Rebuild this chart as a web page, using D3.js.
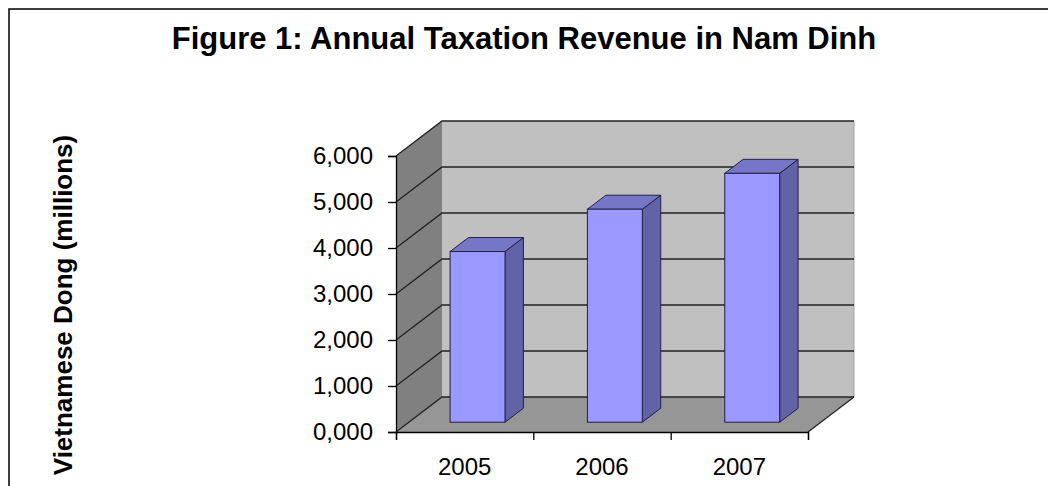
<!DOCTYPE html>
<html>
<head>
<meta charset="utf-8">
<script src="https://cdn.jsdelivr.net/npm/d3@7"></script>
<style>
  html, body { margin: 0; padding: 0; background: #fff; }
  svg { display: block; }
  text { font-family: "Liberation Sans", Arial, sans-serif; }
</style>
</head>
<body>
<svg id="chart" width="1048" height="486"></svg>
<script>
// ---- data ----
const categories = ["2005", "2006", "2007"];
const values = [3710, 4630, 5410];
const yTicks = [0, 1000, 2000, 3000, 4000, 5000, 6000];
const yTickLabels = ["0,000", "1,000", "2,000", "3,000", "4,000", "5,000", "6,000"];
const titleText = "Figure 1: Annual Taxation Revenue in Nam Dinh";
const yTitleText = "Vietnamese Dong (millions)";

// ---- layout ----
const svg = d3.select("#chart");
const x0 = 396, x1 = 808, yTop = 156, yBot = 432;
const depth = { dx: 46, dy: -35 };
const barFront = 0.28, barDepth = 0.40;

const x = d3.scaleBand().domain(categories).range([x0, x1]).paddingInner(0.6).paddingOuter(0.3);
const y = d3.scaleLinear().domain([0, 6000]).range([yBot, yTop]);

// outer frame
svg.append("path").attr("d", "M9,486 L9,9 L1048,9")
  .attr("fill", "none").attr("stroke", "#000").attr("stroke-width", 1.5);

// walls
const dx = depth.dx, dy = depth.dy;
const g = svg.append("g");
g.append("polygon")
  .attr("points", [[x0, y(6000)], [x0 + dx, y(6000) + dy], [x0 + dx, y(0) + dy], [x0, y(0)]].join(" "))
  .attr("fill", "#808080");
g.append("polygon")
  .attr("points", [[x0 + dx, y(6000) + dy], [x1 + dx, y(6000) + dy], [x1 + dx, y(0) + dy], [x0 + dx, y(0) + dy]].join(" "))
  .attr("fill", "#c0c0c0");
g.append("polygon")
  .attr("points", [[x0, y(0)], [x0 + dx, y(0) + dy], [x1 + dx, y(0) + dy], [x1, y(0)]].join(" "))
  .attr("fill", "#969696");
g.append("line").attr("x1", x1 + dx).attr("x2", x1 + dx)
  .attr("y1", y(6000) + dy).attr("y2", y(0) + dy)
  .attr("stroke", "#a0a0a0").attr("stroke-width", 1);

// gridlines
yTicks.forEach(v => {
  g.append("path")
    .attr("d", `M${x0},${y(v)} L${x0 + dx},${y(v) + dy} L${x1 + dx},${y(v) + dy}`)
    .attr("fill", "none").attr("stroke", "#222").attr("stroke-width", 1.3);
});
g.append("line").attr("x1", x1).attr("y1", y(0)).attr("x2", x1 + dx).attr("y2", y(0) + dy)
  .attr("stroke", "#222").attr("stroke-width", 1.3);

// axes
const yAxis = d3.axisLeft(y).tickValues(yTicks).tickSize(8).tickPadding(15)
  .tickFormat((d, i) => yTickLabels[i]);
const ya = svg.append("g").attr("transform", `translate(${x0},0)`).call(yAxis);
ya.select(".domain").attr("stroke", "#000").attr("stroke-width", 1.3);
ya.selectAll(".tick line").attr("stroke", "#000").attr("stroke-width", 1.3);
ya.selectAll("text").attr("font-size", 24).attr("fill", "#000")
  .attr("font-family", "'Liberation Sans', Arial, sans-serif");

const xTickScale = d3.scalePoint().domain(d3.range(categories.length + 1)).range([x0, x1]);
const xa = svg.append("g").attr("transform", `translate(0,${yBot})`)
  .call(d3.axisBottom(xTickScale).tickSize(8).tickFormat(""));
xa.select(".domain").attr("stroke", "#000").attr("stroke-width", 1.3);
xa.selectAll(".tick line").attr("stroke", "#000").attr("stroke-width", 1.3);

svg.append("g").selectAll("text").data(categories).join("text")
  .attr("x", d => x(d) + x.bandwidth() / 2)
  .attr("y", yBot + 43)
  .attr("text-anchor", "middle").attr("font-size", 24).attr("fill", "#000")
  .text(d => d);

// bars
const ox = dx * barFront, oy = dy * barFront;
const bx = dx * barDepth, by = dy * barDepth;
const bars = svg.append("g").selectAll("g").data(categories.map((c, i) => ({ c, v: values[i] }))).join("g");
bars.each(function (d) {
  const sel = d3.select(this);
  const L = x(d.c) + ox, R = x(d.c) + x.bandwidth() + ox;
  const T = y(d.v) + oy, B = y(0) + oy;
  sel.append("polygon")
    .attr("points", [[R, T], [R + bx, T + by], [R + bx, B + by], [R, B]].join(" "))
    .attr("fill", "#6262a6").attr("stroke", "#222244").attr("stroke-width", 1);
  sel.append("polygon")
    .attr("points", [[L, T], [L + bx, T + by], [R + bx, T + by], [R, T]].join(" "))
    .attr("fill", "#7676c6").attr("stroke", "#222244").attr("stroke-width", 1);
  sel.append("rect").attr("x", L).attr("y", T).attr("width", R - L).attr("height", B - T)
    .attr("fill", "#9999ff").attr("stroke", "#222244").attr("stroke-width", 1);
});

// titles
svg.append("text").attr("x", 524).attr("y", 49).attr("text-anchor", "middle")
  .attr("font-size", 31).attr("font-weight", "bold").attr("fill", "#000").text(titleText);
svg.append("text").attr("transform", "translate(72,305) rotate(-90)").attr("text-anchor", "middle")
  .attr("font-size", 26).attr("font-weight", "bold").attr("fill", "#000").text(yTitleText);
</script>
</body>
</html>
